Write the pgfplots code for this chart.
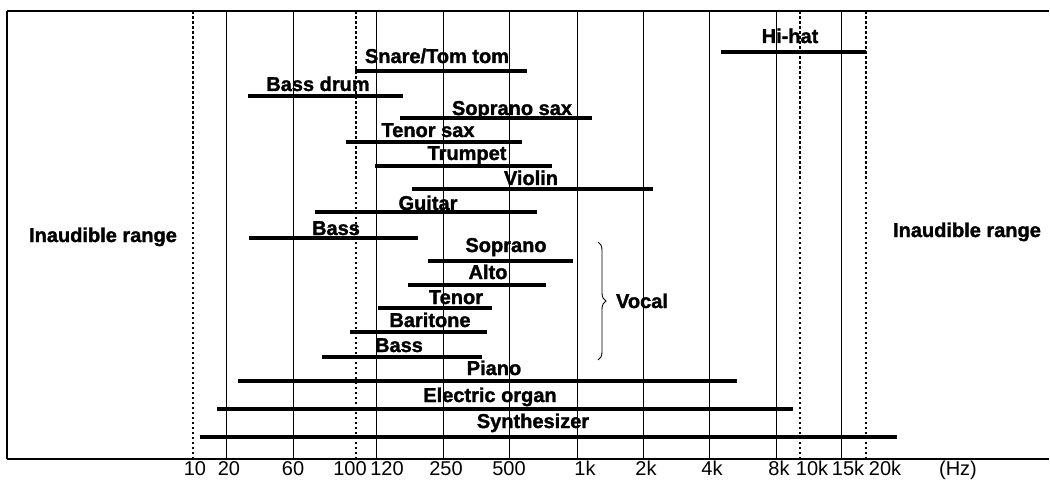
\documentclass[border=0pt]{standalone}
\usepackage{fontspec}
\setmainfont{Liberation Sans}[BoldFeatures={FakeBold=1.5}]
\usepackage{pgfplots}
\pgfplotsset{compat=1.18}
\usetikzlibrary{decorations.pathreplacing}

\begin{document}
\begin{tikzpicture}[
  bar/.style={black, line width=4pt},
  lab/.style={anchor=base, font=\bfseries\fontsize{20}{24}\selectfont, inner sep=0pt},
  lim/.style={black, line width=2pt, dash pattern=on 2.5pt off 2.5pt},
]
\begin{axis}[
  scale only axis, width=1042pt, height=448pt,
  xmin=7, xmax=1049, ymin=21, ymax=469,
  axis x line=box, axis y line=left, axis line style={-, line width=1.2pt},
  clip=false,
  ytick=\empty,
  xtick={195,229,293,350,387,446,509,585,646,712,779,812,848,885,958},
  xticklabels={10,20,60,100,120,250,500,1k,2k,4k,8k,10k,15k,20k,(Hz)},
  major tick length=0pt,
  xticklabel style={anchor=base, yshift=-16.5pt, font=\fontsize{20}{24}\selectfont, inner sep=0pt},
  extra x ticks={226.5,293,376,443,509,577,643,709,776,841},
  extra x tick labels={},
  extra x tick style={grid=major, major tick length=0pt},
  major grid style={black, line width=1pt},
]
% dotted limits (10, 100, 10k, 20k)
\draw[lim] (axis cs:192.5,21) -- (axis cs:192.5,469);
\draw[lim] (axis cs:356,21) -- (axis cs:356,469);
\draw[lim] (axis cs:800,21) -- (axis cs:800,469);
\draw[lim] (axis cs:866,21) -- (axis cs:866,469);

% ranges
\addplot[bar] coordinates {(721,428) (866,428)}; % Hi-hat
\addplot[bar] coordinates {(355,409) (527,409)}; % Snare/Tom tom
\addplot[bar] coordinates {(248,384) (403,384)}; % Bass drum
\addplot[bar] coordinates {(400,362) (592,362)}; % Soprano sax
\addplot[bar] coordinates {(346,338) (522,338)}; % Tenor sax
\addplot[bar] coordinates {(375,314) (552,314)}; % Trumpet
\addplot[bar] coordinates {(412,291) (653,291)}; % Violin
\addplot[bar] coordinates {(315,268) (537,268)}; % Guitar
\addplot[bar] coordinates {(249,242) (418,242)}; % Bass
\addplot[bar] coordinates {(428,219) (573,219)}; % Soprano
\addplot[bar] coordinates {(408,195) (546,195)}; % Alto
\addplot[bar] coordinates {(378,172) (492,172)}; % Tenor
\addplot[bar] coordinates {(350,148) (487,148)}; % Baritone
\addplot[bar] coordinates {(322,123) (482,123)}; % Bass (vocal)
\addplot[bar] coordinates {(238,99) (737,99)};   % Piano
\addplot[bar] coordinates {(217,71) (793,71)};   % Electric organ
\addplot[bar] coordinates {(200,43) (897,43)};   % Synthesizer

% labels
\node[lab] at (axis cs:790,437) {Hi-hat};
\node[lab] at (axis cs:437,417) {Snare/Tom tom};
\node[lab] at (axis cs:318,389) {Bass drum};
\node[lab] at (axis cs:512,365) {Soprano sax};
\node[lab] at (axis cs:428,343) {Tenor sax};
\node[lab] at (axis cs:467,320) {Trumpet};
\node[lab] at (axis cs:531,295) {Violin};
\node[lab] at (axis cs:428,270) {Guitar};
\node[lab] at (axis cs:336,245) {Bass};
\node[lab] at (axis cs:506,228) {Soprano};
\node[lab] at (axis cs:488,201) {Alto};
\node[lab] at (axis cs:456,176) {Tenor};
\node[lab] at (axis cs:430,153) {Baritone};
\node[lab] at (axis cs:399,128) {Bass};
\node[lab] at (axis cs:494,105) {Piano};
\node[lab] at (axis cs:490,78) {Electric organ};
\node[lab] at (axis cs:533,52) {Synthesizer};
\node[lab] at (axis cs:642,172) {Vocal};
\node[lab] at (axis cs:103,238) {Inaudible range};
\node[lab] at (axis cs:967,243) {Inaudible range};

\draw[black, line width=0.9pt, decorate, decoration={brace, amplitude=8pt}]
  (axis cs:598,238) -- (axis cs:598,120);

\coordinate (bl) at (axis cs:0,0);
\coordinate (tr) at (axis cs:1050,480);
\end{axis}
\pgfresetboundingbox
\useasboundingbox (bl) rectangle (tr);
\end{tikzpicture}
\end{document}
